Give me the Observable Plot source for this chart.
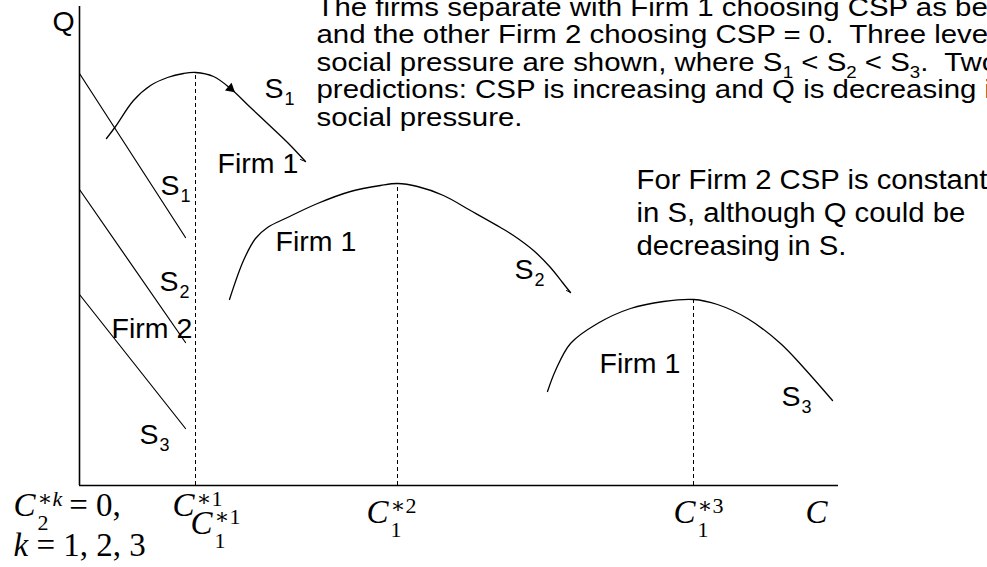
<!DOCTYPE html>
<html>
<head>
<meta charset="utf-8">
<script src="https://cdn.jsdelivr.net/npm/d3@7"></script>
<script src="https://cdn.jsdelivr.net/npm/@observablehq/plot@0.6"></script>
<style>
  html, body { margin: 0; padding: 0; background: #fff; overflow: hidden; }
</style>
</head>
<body>
<div id="chart"></div>
<script>
// ---------- values (C = CSP level, Q = output) ----------

// Firm 2 always chooses CSP = 0; its output line for each social-pressure level
const firm2C = [0, 106];
const firm2S1Q = [412, 248];
const firm2S2Q = [296, 143];
const firm2S3Q = [191, 57];

// Firm 1 curves for S1 < S2 < S3
const firm1S1C = [27, 36, 54, 71, 88, 104, 116, 134, 151, 171, 188, 208, 226];
const firm1S1Q = [347, 359, 385, 400, 408, 412, 413, 409, 397, 378, 362, 343, 324];
const firm1S2C = [150, 164, 176, 188, 208, 238, 271, 301, 318, 338, 364, 391, 421, 434, 454, 471, 483, 491];
const firm1S2Q = [186, 225, 247, 258, 268, 282, 294, 300, 302, 299, 290, 275, 258, 250, 235, 218, 203, 193];
const firm1S3C = [468, 476, 491, 518, 551, 584, 614, 638, 668, 701, 724, 753];
const firm1S3Q = [94, 115, 142, 162, 177, 184, 186, 181, 167, 142, 118, 85];

// small hooks left at the ends of the S1 and S2 curves
const hookS1C = [226, 221];
const hookS1Q = [324, 326];
const hookS2C = [491, 487];
const hookS2Q = [193, 195];

// Firm 1's optimum for each level: C1*1, C1*2, C1*3
const cStar = [116, 318, 614];
const qStar = [413, 302, 186];

// direction marker along the S1 curve
const arrowAt = {c: 151, q: 397};

// axis extents
const cMax = 759;
const qMax = 479;

// ---------- text ----------
const plainLabels = [
  {c: -27, q: 455, text: "Q"},
  {c: 138, q: 313, text: "Firm 1"},
  {c: 32, q: 148, text: "Firm 2"},
  {c: 196, q: 235, text: "Firm 1"},
  {c: 520, q: 113, text: "Firm 1"}
];
// "_d" marks a subscript digit
const sLabels = [
  {c: 185, q: 388, text: "S_1"},
  {c: 81, q: 291, text: "S_1"},
  {c: 80, q: 195, text: "S_2"},
  {c: 60, q: 42, text: "S_3"},
  {c: 435, q: 207, text: "S_2"},
  {c: 702, q: 80, text: "S_3"}
];
const noteTopLines = [
  "The firms separate with Firm 1 choosing CSP as before",
  "and the other Firm 2 choosing CSP = 0.  Three levels of",
  "social pressure are shown, where S_1 < S_2 < S_3.  Two",
  "predictions: CSP is increasing and Q is decreasing in",
  "social pressure."
];
const noteTopAt = {c: 237, q: 470};
const noteRightLines = [
  "For Firm 2 CSP is constant",
  "in S, although Q could be",
  "decreasing in S."
];
const noteRightAt = {c: 557, q: 297};

// labels under the C axis (letters set in italic, as in math)
const cAxisLabels = [
  {c: -66, q: -30, base: "C", sup: "∗k", sub: "2", tail: "= 0,"},
  {c: 93, q: -30, base: "C", sup: "∗1"},
  {c: 111, q: -48, base: "C", sup: "∗1", sub: "1"},
  {c: 287, q: -37, base: "C", sup: "∗2", sub: "1"},
  {c: 594, q: -37, base: "C", sup: "∗3", sub: "1"},
  {c: 726, q: -37, base: "C"}
];
const kNote = {c: -66, q: -70, text: "k = 1, 2, 3"};

// ---------- fonts (sx: horizontal stretch of the glyphs) ----------
const SANS = "'Liberation Sans', Arial, Helvetica, sans-serif";
const SERIF = "'Liberation Serif', 'Times New Roman', 'DejaVu Serif', serif";
const fonts = {
  top:      {family: SANS, size: 26, style: "normal", sx: 1.132},
  topSub:   {family: SANS, size: 16.5, style: "normal", sx: 1.132},
  side:     {family: SANS, size: 27.5, style: "normal", sx: 1.065},
  label:    {family: SANS, size: 28.5, style: "normal", sx: 1},
  labelSub: {family: SANS, size: 18, style: "normal", sx: 1},
  itBig:    {family: SERIF, size: 33, style: "italic", sx: 1},
  rmBig:    {family: SERIF, size: 33, style: "normal", sx: 1},
  itSmall:  {family: SERIF, size: 22, style: "italic", sx: 1},
  rmSmall:  {family: SERIF, size: 22, style: "normal", sx: 1}
};

// ---------- text layout (x scale is 1 unit per pixel) ----------
const ctx = document.createElement("canvas").getContext("2d");
function textWidth(t, key) {
  const f = fonts[key];
  ctx.font = `${f.style} ${f.size}px ${f.family}`;
  return ctx.measureText(t).width * f.sx;
}
const rows = [];
function put(c, q, text, font) {
  rows.push({c, q, text, font});
  return c + textWidth(text, font);
}
function withSubscripts(c, q, str, big, small, gap) {
  for (const part of str.split(/(_\w)/)) {
    if (!part) continue;
    if (part[0] === "_") c = put(c + gap, q - 7, part.slice(1), small);
    else c = put(c, q, part, big);
  }
  return c;
}
function math(c, q, str, size) {
  for (const m of str.match(/[A-Za-z]+|[^A-Za-z]+/g)) {
    c = put(c, q, m, (/[A-Za-z]/.test(m) ? "it" : "rm") + size);
  }
  return c;
}

plainLabels.forEach(d => put(d.c, d.q, d.text, "label"));
sLabels.forEach(d => withSubscripts(d.c, d.q, d.text, "label", "labelSub", 1));
noteTopLines.forEach((line, i) => withSubscripts(noteTopAt.c, noteTopAt.q - i * 27.5, line, "top", "topSub", 0));
noteRightLines.forEach((line, i) => put(noteRightAt.c, noteRightAt.q - i * 33, line, "side"));
for (const l of cAxisLabels) {
  const x0 = math(l.c, l.q, l.base, "Big") + 2;
  let x1 = x0, x2 = x0;
  if (l.sup) x1 = math(x0, l.q + 10, l.sup, "Small");
  if (l.sub) x2 = math(x0, l.q - 14, l.sub, "Small");
  if (l.tail) math(Math.max(x1, x2) + 7, l.q, l.tail, "Big");
}
math(kNote.c, kNote.q, kNote.text, "Big");

// ---------- series tables ----------
const toPoints = (cs, qs) => cs.map((c, i) => ({c, q: qs[i]}));
const firm2 = [
  ...toPoints(firm2C, firm2S1Q).map(d => ({...d, s: "S1"})),
  ...toPoints(firm2C, firm2S2Q).map(d => ({...d, s: "S2"})),
  ...toPoints(firm2C, firm2S3Q).map(d => ({...d, s: "S3"}))
];
const firm1 = [
  ...toPoints(firm1S1C, firm1S1Q).map(d => ({...d, s: "S1"})),
  ...toPoints(firm1S2C, firm1S2Q).map(d => ({...d, s: "S2"})),
  ...toPoints(firm1S3C, firm1S3Q).map(d => ({...d, s: "S3"}))
];
const hooks = [
  ...toPoints(hookS1C, hookS1Q).map(d => ({...d, s: "S1"})),
  ...toPoints(hookS2C, hookS2Q).map(d => ({...d, s: "S2"}))
];
const optima = cStar.map((c, i) => ({c, q: qStar[i]}));

const chart = Plot.plot({
  width: 987,
  height: 567,
  margin: 0,
  x: {domain: [-79, 908], axis: null},
  y: {domain: [-82, 485], axis: null},
  marks: [
    // axes
    Plot.ruleX([0], {y1: 0, y2: qMax, stroke: "black", strokeWidth: 1.6}),
    Plot.ruleY([0], {x1: 0, x2: cMax, stroke: "black", strokeWidth: 1.6}),
    // Firm 1's optimal CSP
    Plot.ruleX(optima, {x: "c", y1: 0, y2: "q", stroke: "black", strokeWidth: 1, strokeDasharray: "4,3"}),
    // Firm 2 lines
    Plot.line(firm2, {x: "c", y: "q", z: "s", stroke: "black", strokeWidth: 1.2}),
    // Firm 1 curves
    Plot.line(firm1, {x: "c", y: "q", z: "s", curve: "catmull-rom", stroke: "black", strokeWidth: 1.3}),
    Plot.line(hooks, {x: "c", y: "q", z: "s", stroke: "black", strokeWidth: 1}),
    Plot.dot([arrowAt], {x: "c", y: "q", symbol: "triangle", r: 3.8, fill: "black", stroke: null, rotate: 130}),
    // text
    ...Object.entries(fonts).map(([key, f]) =>
      Plot.text(rows.filter(r => r.font === key), {
        x: "c", y: "q", text: "text",
        textAnchor: "start", lineAnchor: "bottom",
        fontFamily: f.family, fontSize: f.size, fontStyle: f.style,
        fill: "black"
      })
    )
  ]
});

// widen the note glyphs about their anchors
for (const f of Object.values(fonts)) {
  if (f.sx === 1) continue;
  d3.select(chart).selectAll(`g[font-size="${f.size}"] text`).each(function () {
    const t = this.getAttribute("transform") || "";
    this.setAttribute("transform", `${t} scale(${f.sx},1)`);
  });
}
document.getElementById("chart").append(chart);
</script>
</body>
</html>
